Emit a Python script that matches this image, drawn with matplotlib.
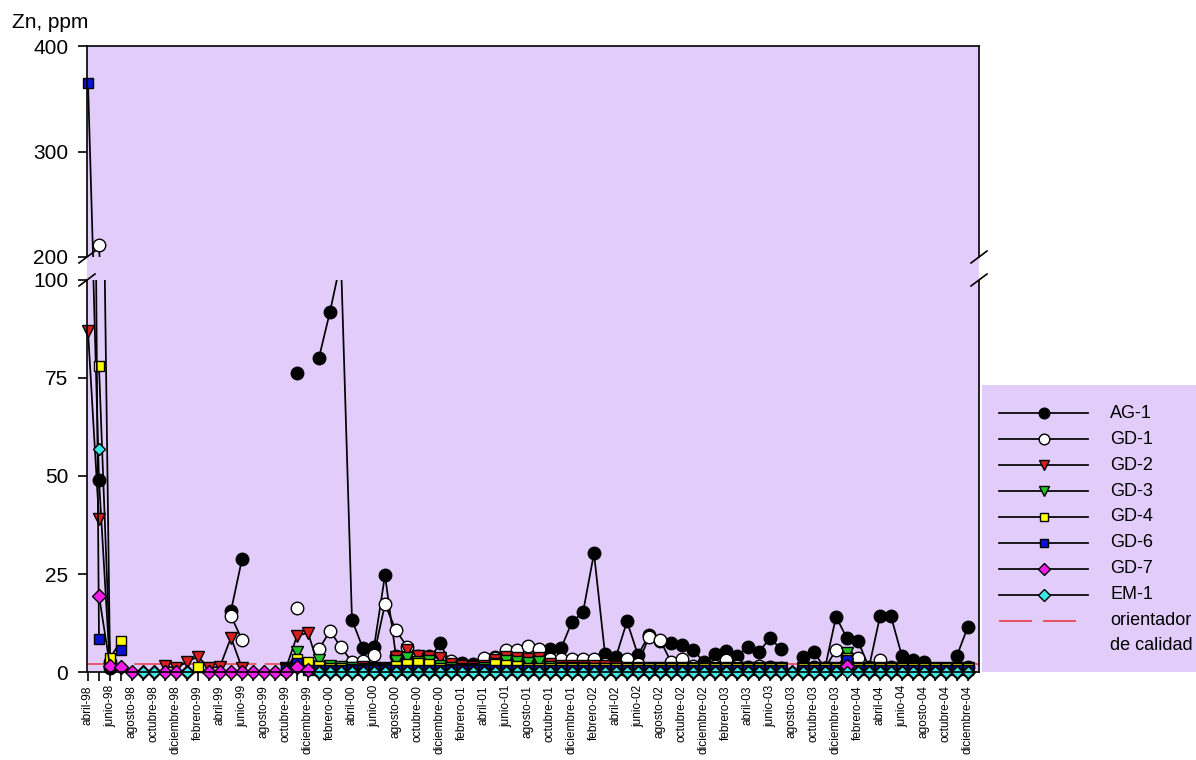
import numpy as np
import matplotlib
matplotlib.use("Agg")
import matplotlib.pyplot as plt
from matplotlib.transforms import Bbox, TransformedBbox
from matplotlib.lines import Line2D
from matplotlib.patches import Rectangle

plt.rcParams["font.family"] = ["Liberation Sans", "DejaVu Sans"]
plt.rcParams["lines.scale_dashes"] = False

nan = np.nan

# ---------------------------------------------------------------- data
month_labels = [
    "abril-98", "junio-98", "agosto-98", "octubre-98", "diciembre-98",
    "febrero-99", "abril-99", "junio-99", "agosto-99", "octubre-99", "diciembre-99",
    "febrero-00", "abril-00", "junio-00", "agosto-00", "octubre-00", "diciembre-00",
    "febrero-01", "abril-01", "junio-01", "agosto-01", "octubre-01", "diciembre-01",
    "febrero-02", "abril-02", "junio-02", "agosto-02", "octubre-02", "diciembre-02",
    "febrero-03", "abril-03", "junio-03", "agosto-03", "octubre-03", "diciembre-03",
    "febrero-04", "abril-04", "junio-04", "agosto-04", "octubre-04", "diciembre-04",
]
months = np.arange(81)  # monthly samples, abril-98 .. diciembre-04

ag1 = [150, 49, 1, nan, nan, nan, nan, nan, nan, nan,
       nan, nan, nan, 15.6, 28.8, nan, nan, nan, nan, 76.4,
       nan, 80.2, 91.9, 105, 13.3, 6.0, 6.3, 24.7, 4.0, 3.0,
       3.2, 3.0, 7.3, 2.0, 2.4, 2.0, 2.2, 3.9, 3.0, 3.2,
       3.5, 4.0, 5.8, 6.0, 12.8, 15.2, 30.3, 4.6, 3.9, 12.9,
       4.3, 9.5, 7.8, 7.3, 6.9, 5.6, 2.6, 4.6, 5.4, 4.1,
       6.3, 5.2, 8.6, 5.9, nan, 3.8, 5.0, 1.0, 14.1, 8.6,
       7.9, 1.2, 14.2, 14.2, 4.0, 3.0, 2.6, nan, nan, 4.2,
       11.6]

gd1 = [nan, 211, 2.5, nan, nan, nan, nan, nan, nan, nan,
       nan, nan, nan, 14.3, 8.2, nan, nan, nan, nan, 16.2,
       nan, 5.8, 10.5, 6.3, 2.6, 2.8, 4.4, 17.3, 10.6, 6.5,
       4.2, 4.0, 3.0, 2.7, 1.5, 1.2, 3.5, 3.5, 5.6, 5.6,
       6.6, 5.8, 3.2, 3.2, 3.3, 3.3, 3.2, 2.0, 1.5, 3.2,
       2.0, 9.0, 8.2, 2.6, 3.2, 1.5, 1.2, 1.5, 3.0, 1.5,
       1.2, 1.5, 1.2, 1.0, nan, 1.0, 1.2, 1.0, 5.6, 4.0,
       3.5, 1.0, 3.1, 1.2, 1.0, 0.8, 1.0, 0.8, 0.8, 1.2,
       1.2]

gd2 = [87, 39, nan, nan, nan, nan, nan, 1.5, 1.0, 2.6,
       3.9, 1.0, 1.4, 8.8, 1.0, nan, nan, nan, 1.0, 9.2,
       10.0, 1.2, 1.0, 1.0, 1.0, 1.2, 1.0, 1.0, 3.7, 5.6,
       4.2, 3.8, 3.5, 2.0, 1.5, 1.2, 1.5, 3.0, 3.8, 3.5,
       3.2, 3.5, 2.0, 1.5, 1.5, 1.5, 1.5, 1.5, 1.2, 1.0,
       1.0, 1.0, 1.0, 1.0, 1.0, 1.0, 1.0, 1.0, 1.0, 1.0,
       1.0, 1.0, 1.0, 1.0, nan, 1.0, 1.0, 1.0, 1.0, 2.0,
       1.0, 1.0, 1.0, 1.0, 1.0, 1.0, 1.0, 1.0, 1.0, 1.0,
       1.0]

gd3 = [nan, nan, nan, nan, nan, nan, nan, nan, nan, nan,
       nan, nan, nan, nan, nan, nan, nan, nan, 0.8, 5.0,
       1.5, 3.0, 1.5, 1.2, 1.0, 0.8, 0.8, 0.8, 2.8, 3.6,
       2.5, 2.8, 1.5, 1.0, 0.8, 0.8, 1.0, 2.0, 2.8, 2.5,
       2.2, 2.5, 1.2, 1.0, 1.0, 1.0, 0.8, 0.8, 0.8, 0.8,
       0.8, 0.8, 0.8, 0.8, 0.8, 0.8, 0.8, 0.8, 0.8, 0.8,
       0.8, 0.8, 0.8, 0.8, nan, 0.8, 0.8, 0.8, 0.8, 4.9,
       0.8, 0.8, 0.8, 0.8, 0.8, 0.8, 0.8, 0.8, 0.8, 0.8,
       0.8]

gd4 = [nan, 78, 3.5, 8.0, nan, nan, nan, nan, nan, nan,
       1.2, nan, nan, nan, nan, nan, nan, nan, 0.8, 3.3,
       2.6, 1.5, 1.0, 1.0, 0.8, 0.8, 0.8, 0.8, 1.5, 2.0,
       2.2, 2.0, 1.0, 0.8, 0.8, 0.8, 0.8, 2.0, 1.8, 1.5,
       1.0, 1.0, 1.0, 1.0, 1.0, 1.0, 1.0, 1.0, 1.0, 1.0,
       1.0, 1.0, 1.0, 1.0, 1.0, 1.0, 1.0, 1.0, 1.0, 1.0,
       1.0, 1.0, 1.0, 1.0, nan, 1.0, 1.0, 1.0, 1.0, 3.6,
       1.0, 1.0, 1.0, 1.0, 1.0, 1.0, 1.0, 1.0, 1.0, 1.0,
       1.0]

gd6 = [365, 8.4, nan, 5.7, nan, nan, nan, nan, nan, nan,
       nan, nan, nan, nan, nan, nan, nan, nan, 0.5, 2.2,
       0.5, 0.5, 0.5, 0.5, 0.5, 0.5, 0.5, 0.5, 0.5, 0.5,
       0.5, 0.5, 0.5, 0.5, 0.5, 0.5, 0.5, 0.5, 0.5, 0.5,
       0.5, 0.5, 0.5, 0.5, 0.5, 0.5, 0.5, 0.5, 0.5, 0.5,
       0.5, 0.5, 0.5, 0.5, 0.5, 0.5, 0.5, 0.5, 0.5, 0.5,
       0.5, 0.5, 0.5, 0.5, nan, 0.5, 0.5, 0.5, 0.5, 3.1,
       0.5, 0.5, 0.5, 0.5, 0.5, 0.5, 0.5, 0.5, 0.5, 0.5,
       0.5]

gd7 = [nan, 19.5, 1.5, 1.3, 0, 0, 0, 0, 0, 0,
       nan, 0, 0, 0, 0, 0, 0, 0, 0, 1.3,
       0.5, 0, 0, 0, 0, 0, 0, 0, 0, 0,
       0, 0, 0, 0, 0, 0, 0, 0, 0, 0,
       0, 0, 0, 0, 0, 0, 0, 0, 0, 0,
       0, 0, 0, 0, 0, 0, 0, 0, 0, 0,
       0, 0, 0, 0, 0, 0, 0, 0, 0, 1.5,
       0, 0, 0, 0, 0, 0, 0, 0, 0, 0,
       0]

em1 = [nan, 57, nan, nan, nan, 0, 0, nan, nan, 0,
       nan, nan, nan, nan, nan, nan, nan, nan, nan, nan,
       nan, 0, 0, 0, 0, 0, 0, 0, 0, 0,
       0, 0, 0, 0, 0, 0, 0, 0, 0, 0,
       0, 0, 0, 0, 0, 0, 0, 0, 0, 0,
       0, 0, 0, 0, 0, 0, 0, 0, 0, 0,
       0, 0, 0, 0, 0, 0, 0, 0, 0, 0,
       0, 0, 0, 0, 0, 0, 0, 0, 0, 0,
       0]

guide_value = 2.0  # orientador de calidad, ppm
guide_label = ["orientador", "de calidad"]

series_names = ["AG-1", "GD-1", "GD-2", "GD-3", "GD-4", "GD-6", "GD-7", "EM-1"]
series_values = [ag1, gd1, gd2, gd3, gd4, gd6, gd7, em1]

# ---------------------------------------------------------------- styles
marker_styles = {
    "AG-1": dict(marker="o", ms=9.0, mfc="black"),
    "GD-1": dict(marker="o", ms=9.0, mfc="white"),
    "GD-2": dict(marker="v", ms=8.5, mfc="#d81e1e"),
    "GD-3": dict(marker="v", ms=8.5, mfc="#22c42a"),
    "GD-4": dict(marker="s", ms=6.8, mfc="#ffff00"),
    "GD-6": dict(marker="s", ms=6.8, mfc="#0a14d0"),
    "GD-7": dict(marker="D", ms=7.0, mfc="#ee1ee6"),
    "EM-1": dict(marker="D", ms=6.6, mfc="#3ee6e6"),
}
bg = "#e1ccfa"
guide_color = "#e8505e"

W, H = 1196, 760
fig = plt.figure(figsize=(W / 100, H / 100), dpi=100)
fig.patch.set_facecolor("white")


def rect(x0, y0, x1, y1):
    return [x0 / W, 1 - y1 / H, (x1 - x0) / W, (y1 - y0) / H]


AX_L, AX_R = 87, 979
TOP_T, TOP_B = 46, 257
BOT_T, BOT_B = 280, 672

ax_top = fig.add_axes(rect(AX_L, TOP_T, AX_R, TOP_B))
ax_bot = fig.add_axes(rect(AX_L, BOT_T, AX_R, BOT_B))

# lavender band filling the gap between the two panels
fig.patches.append(Rectangle((AX_L / W, 1 - BOT_T / H), (AX_R - AX_L) / W,
                             (BOT_T - TOP_B) / H, transform=fig.transFigure,
                             facecolor=bg, edgecolor="none", zorder=0))

for ax in (ax_top, ax_bot):
    ax.set_facecolor(bg)
    ax.set_xlim(-0.09, 81.0)
    for s in ax.spines.values():
        s.set_linewidth(1.2)
        s.set_color("black")

ax_top.set_ylim(200, 400)
ax_bot.set_ylim(0, 100)
ax_top.spines["bottom"].set_visible(False)
ax_bot.spines["top"].set_visible(False)

# quality guideline
ax_bot.axhline(guide_value, color=guide_color, lw=1.3,
               linestyle=(60, (88, 6)), zorder=1.5)

for name, vals in zip(series_names, series_values):
    st = marker_styles[name]
    for ax, lo in ((ax_top, 0.0), (ax_bot, -0.04)):
        ln, = ax.plot(months, vals, color="black", lw=1.25, mec="black",
                      mew=1.0, zorder=2, **st)
        ln.set_clip_box(TransformedBbox(Bbox([[-0.03, lo], [1.0, 1.0]]),
                                        ax.transAxes))

# axes ticks
ax_top.set_xticks([])
ax_top.set_yticks([200, 300, 400])
ax_bot.set_yticks([0, 25, 50, 75, 100])
ax_bot.set_xticks(months)
ax_bot.set_xticklabels([month_labels[i // 2] if i % 2 == 0 else "" for i in months])
for ax in (ax_top, ax_bot):
    ax.tick_params(axis="y", direction="out", length=6.5, width=1.2, pad=7,
                   labelsize=15)
ax_bot.tick_params(axis="x", direction="out", length=6.5, width=1.2, pad=3,
                   labelsize=8.6, labelrotation=90)

# break marks on both vertical spines
for x in (AX_L, AX_R):
    for y in (TOP_B, BOT_T):
        fig.add_artist(Line2D([(x - 8) / W, (x + 8) / W],
                              [1 - (y + 6) / H, 1 - (y - 6) / H],
                              transform=fig.transFigure, color="black", lw=1.2))

fig.text(12 / W, 1 - 28 / H, "Zn, ppm", fontsize=15, ha="left", va="baseline")

# legend panel
lg = fig.add_axes(rect(982, 385, W, BOT_B))
lg.set_facecolor(bg)
lg.set_xlim(0, W - 982)
lg.set_ylim(BOT_B - 385, 0)
lg.set_xticks([])
lg.set_yticks([])
for s in lg.spines.values():
    s.set_visible(False)

row0, row_step = 28.3, 25.9
for i, name in enumerate(series_names):
    y = row0 + row_step * i
    lg.plot([17, 106], [y, y], color="black", lw=1.25)
    lg.plot([61.5], [y], color="black", mec="black", mew=1.0,
            **{**marker_styles[name], "ms": marker_styles[name]["ms"] * 0.85})
    lg.text(128, y, name, fontsize=13, va="center", ha="left")
y = row0 + row_step * len(series_names)
lg.plot([17, 95], [y, y], color=guide_color, lw=1.4,
        linestyle=(0, (23.8, 7.9)))
lg.text(128, y, guide_label[0], fontsize=13, va="center", ha="left")
lg.text(128, y + row_step * 0.96, guide_label[1], fontsize=13, va="center", ha="left")

fig.savefig("out.png", dpi=100, facecolor="white")
